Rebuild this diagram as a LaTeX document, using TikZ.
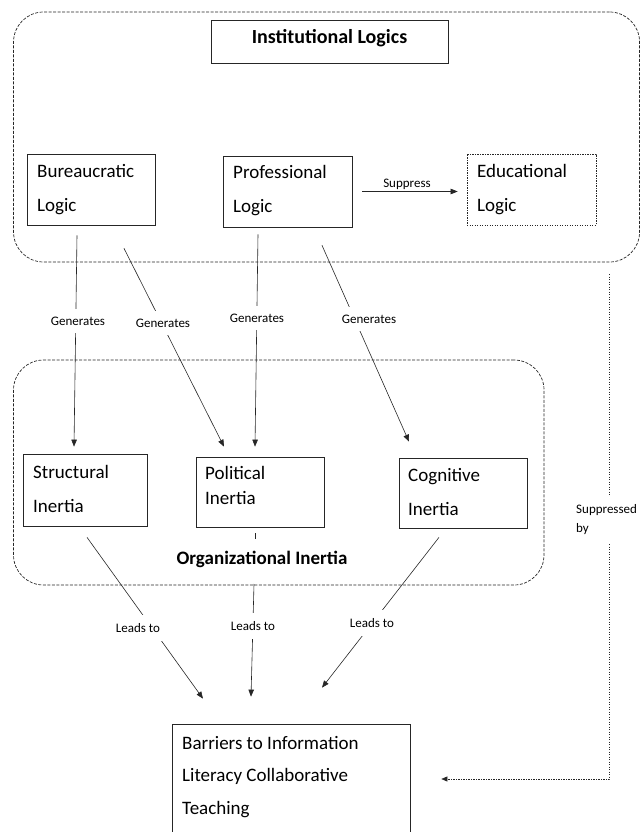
\documentclass[tikz,border=0pt]{standalone}
\usepackage{fontspec}
\setmainfont{Carlito}
\usetikzlibrary{arrows.meta}
\begin{document}
\begin{tikzpicture}[x=1pt,y=-1pt,
  ln/.style={draw=black!85, line width=0.6pt},
  arr/.style={ln, -{Triangle[length=7pt,width=5.5pt]}},
  dotarr/.style={ln, dash pattern=on 1.4pt off 1.1pt, -{Triangle[length=6pt,width=5pt]}},
  box/.style={draw=black!85, line width=0.7pt, inner sep=0pt},
  dotbox/.style={box, dash pattern=on 1.4pt off 1.1pt},
  group/.style={draw=black!85, line width=0.7pt, dash pattern=on 3pt off 1.5pt, rounded corners=30pt, inner sep=0pt},
  txt/.style={font=\fontsize{19}{34}\selectfont, align=left, inner sep=0pt, anchor=base west},
  lab/.style={font=\fontsize{13}{16}\selectfont, fill=white, inner xsep=2pt, inner ysep=8pt},
  ttl/.style={font=\bfseries\fontsize{20}{24}\selectfont, anchor=base, inner sep=0pt}]
\useasboundingbox (0,0) rectangle (640,832);
\clip (0,0) rectangle (640,832);

% group frames
\node[group, minimum width=626pt, minimum height=250pt] (outer) at (326.55,137) {};
\node[group, minimum width=530.5pt, minimum height=225pt] (inner) at (278.75,472.5) {};

% boxes (text nodes anchored at the baseline of their last line)
\node[box, minimum width=237pt, minimum height=43pt] (inst) at (329.5,41.5) {};
\node[ttl] (instT) at (329.5,44) {Institutional Logics};

\node[box, minimum width=128pt, minimum height=71pt] (bur) at (91,189.5) {};
\node[txt] (burT) at (37,211) {Bureaucratic\\Logic};
\node[box, minimum width=129pt, minimum height=71pt] (prof) at (287.5,191.5) {};
\node[txt] (profT) at (233,212) {Professional\\Logic};
\node[dotbox, minimum width=129pt, minimum height=71pt] (edu) at (531.5,189.5) {};
\node[txt] (eduT) at (477,211) {Educational\\Logic};

\node[box, minimum width=124pt, minimum height=72pt] (str) at (85,490) {};
\node[txt] (strT) at (33,512) {Structural\\Inertia};
\node[box, minimum width=128pt, minimum height=70pt] (pol) at (260,492) {};
\node[txt, font=\fontsize{19}{25}\selectfont] (polT) at (205,504) {Political\\Inertia};
\node[box, minimum width=128pt, minimum height=70pt] (cog) at (463,493) {};
\node[txt] (cogT) at (408,515) {Cognitive\\Inertia};

\node[ttl, font=\bfseries\fontsize{19}{23}\selectfont] (org) at (262,564) {Organizational Inertia};

\node[box, minimum width=238pt, minimum height=126pt] (bar) at (291,787) {};
\node[txt, font=\fontsize{19}{32.5}\selectfont] (barT) at (182,814) {Barriers to Information\\Literacy Collaborative\\Teaching};

% suppress
\draw[arr, shorten >=9pt] ([xshift=10pt]prof.east) -- (prof.east -| edu.west);
\node[font=\fontsize{13}{15}\selectfont, anchor=south, inner sep=1pt] (supL) at (407,191) {Suppress};

% generates
\draw[arr] ([xshift=-14pt,yshift=-10pt]bur.south) -- ([xshift=-11pt,yshift=7pt]str.north);
\draw[arr] ([xshift=33pt,yshift=-23pt]bur.south) -- ([xshift=-36pt,yshift=10pt]pol.north);
\draw[arr] ([xshift=-29.5pt,yshift=-7pt]prof.south) -- ([xshift=-5pt,yshift=10pt]pol.north);
\draw[arr] ([xshift=34.5pt,yshift=-18pt]prof.south) -- ([xshift=-54pt,yshift=16pt]cog.north);
\node[lab] (g1) at (78,321) {Generates};
\node[lab] (g2) at (163,323) {Generates};
\node[lab] (g3) at (257,318) {Generates};
\node[lab] (g4) at (369,319) {Generates};

% leads to
\draw[arr] ([xshift=2pt,yshift=-11pt]str.south) -- ([xshift=-88pt,yshift=25pt]bar.north);
\draw[ln] ([xshift=-5pt,yshift=-6pt]pol.south) -- ([xshift=-5pt,yshift=-12pt]pol.south);
\coordinate (pl) at (254,584);
\draw[arr] (pl) -- ([xshift=-40pt,yshift=27pt]bar.north);
\draw[arr] ([xshift=-24pt,yshift=-9pt]cog.south) -- ([xshift=31pt,yshift=36pt]bar.north);
\node[lab] (l1) at (138,628) {Leads to};
\node[lab] (l2) at (253,626) {Leads to};
\node[lab] (l3) at (372,623) {Leads to};

% suppressed by
\coordinate (sA) at (609.5,274);
\coordinate (sB) at (609.5,779);
\draw[dotarr, shorten >=31pt] (sA) -- (sB) -- (bar.east |- sB);
\node[font=\fontsize{13}{19}\selectfont, align=left, fill=white, inner xsep=1pt, inner ysep=9pt, anchor=west] (sup) at (575,520) {Suppressed\\by};
\end{tikzpicture}
\end{document}
